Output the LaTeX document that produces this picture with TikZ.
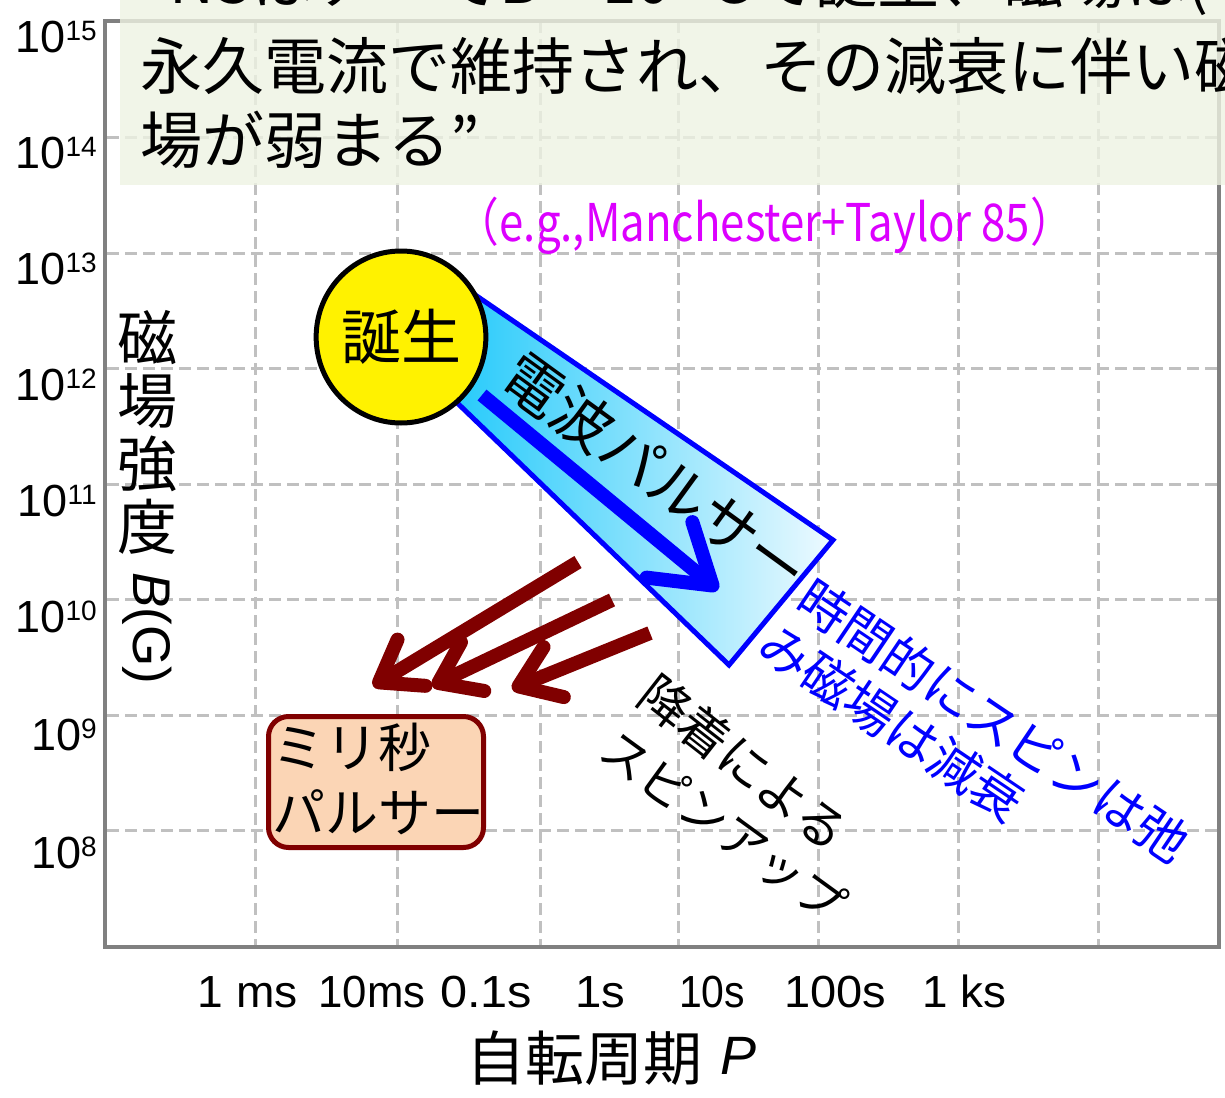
\documentclass[tikz,border=0pt]{standalone}
\usepackage{fontspec}
\usepackage{graphicx}
\setmainfont{Liberation Sans}
\newfontfamily\jp{Noto Sans CJK JP}
\usetikzlibrary{shapes.geometric,arrows.meta}
\definecolor{gridgray}{RGB}{192,192,192}
\definecolor{framegray}{RGB}{128,128,128}
\definecolor{maroonc}{RGB}{128,0,0}
\definecolor{boxbg}{RGB}{238,242,226}
\definecolor{peach}{RGB}{251,213,181}
\definecolor{magc}{RGB}{220,0,255}
\definecolor{cyanL}{RGB}{20,198,250}
\definecolor{cyanR}{RGB}{238,250,255}
\definecolor{pureblue}{RGB}{0,0,255}
\newcommand{\fsz}[1]{\fontsize{#1}{#1}\selectfont}
\newcommand{\fitw}[2]{\resizebox{#1}{\height}{#2}}
\newcommand{\tenp}[1]{{\fsz{45}10}\raisebox{12pt}{\fsz{28}#1}}
\begin{document}
\begin{tikzpicture}[x=1pt,y=-1pt,
  gridline/.style={draw=gridgray,line width=3pt,dash pattern=on 12pt off 6pt},
  ylab/.style={anchor=base east,inner sep=0pt},
  xlab/.style={anchor=base,inner sep=0pt,font=\fsz{45}},
  jtext/.style={inner sep=0pt,font={\jp\fsz{#1}}},
  brownarrow/.style={draw=maroonc,line width=14pt,-{Straight Barb[length=38pt,width=54pt,round]}},
]
\useasboundingbox (0,0) rectangle (1225,1097);
\begin{scope}
\clip (0,0) rectangle (1225,1097);
% grid
\foreach \x in {255,397,540,678,818,958,1098} \draw[gridline] (\x,21) -- (\x,946);
\foreach \y in {137,253,368,484,599,715,830} \draw[gridline] (107,\y) -- (1219,\y);
% frame
\draw[framegray,line width=4.5pt] (105,21) rectangle (1219,947);
% y tick labels
\node[ylab] (y15) at (97,53) {\tenp{15}};
\node[ylab] (y14) at (97,168) {\tenp{14}};
\node[ylab] (y13) at (97,284) {\tenp{13}};
\node[ylab] (y12) at (97,400) {\tenp{12}};
\node[ylab] (y11) at (97,516) {\tenp{11}};
\node[ylab] (y10) at (97,632) {\tenp{10}};
\node[ylab] (y9) at (97,750) {\tenp{9}};
\node[ylab] (y8) at (97,868) {\tenp{8}};
% x tick labels
\node[xlab] (x1) at (248,1007) {\fitw{100pt}{1 ms}};
\node[xlab] (x2) at (372,1007) {\fitw{107pt}{10ms}};
\node[xlab] (x3) at (486,1007) {\fitw{92pt}{0.1s}};
\node[xlab] (x4) at (600,1007) {\fitw{50pt}{1s}};
\node[xlab] (x5) at (712,1007) {\fitw{66pt}{10s}};
\node[xlab] (x6) at (835,1007) {\fitw{102pt}{100s}};
\node[xlab] (x7) at (964,1007) {\fitw{84pt}{1 ks}};
% axis titles
\node[jtext=59] (xt) at (584,1058) {自転周期};
\node[anchor=west,inner sep=0pt,font=\fsz{54}\itshape] (xp) at (720,1056) {P};
\node[inner sep=0pt,align=center,font={\jp\fontsize{60}{63}\selectfont}] (yt) at (147,432) {磁\\場\\強\\度};
\node[inner sep=0pt,rotate=-90,font=\fsz{53}] (yb) at (147,628) {\textit{B}(G)};
% top text box
\fill[boxbg,fill opacity=0.8] (120,-5) rectangle (1230,185);
\node[jtext=62,anchor=west] (t1) at (140,-16) {“NSはテ・でB～10\raisebox{20pt}{\fsz{36}12}Gで誕生、磁場は(中};
\node[jtext=62,anchor=west] (t2) at (140,66) {永久電流で維持され、その減衰に伴い磁};
\node[jtext=62,anchor=west] (t3) at (140,140) {場が弱まる”};
% magenta reference
\node[jtext=52,text=magc] (ref) at (765,226) {\fitw{618pt}{（e.g.,Manchester+Taylor 85）}};
% radio pulsar band
\draw[pureblue,line width=5pt,left color=cyanL,right color=cyanR,line join=miter]
  (430,264) -- (833,540) -- (729,665) -- (420,367) -- cycle;
\node[ellipse,draw=black,line width=5pt,fill=yellow,minimum width=160pt,minimum height=172pt,inner sep=0pt,font={\jp\fsz{60}}] (birth) at (401,337) {誕生};
\coordinate (bs) at (482,395);
\coordinate (be) at (718,590);
\draw[pureblue,line width=14pt,-{Straight Barb[length=56pt,width=72pt,round]}] (bs) -- (be);
\node[jtext=60,rotate=-36] (radio) at (656,473) {電波パルサー};
% decay label
\node[jtext=51,text=pureblue,rotate=-34,anchor=west] (d1) at (803,592) {時間的にスピンは弛};
\node[jtext=51,text=pureblue,rotate=-34,anchor=west] (d2) at (765,637) {み磁場は減衰};
% accretion arrows
\coordinate (a1s) at (578,562); \coordinate (a1e) at (373,686);
\coordinate (a2s) at (612,600); \coordinate (a2e) at (432,686);
\coordinate (a3s) at (650,633); \coordinate (a3e) at (512,689);
\draw[brownarrow] (a1s) -- (a1e);
\draw[brownarrow] (a2s) -- (a2e);
\draw[brownarrow] (a3s) -- (a3e);
\node[jtext=50,rotate=-38,anchor=west] (s1) at (646,686) {降着による};
\node[jtext=48,rotate=-36,anchor=west] (s2) at (607,742) {スピンアップ};
% millisecond pulsar box
\node[draw=maroonc,line width=5pt,fill=peach,rounded corners=20pt,minimum width=215pt,minimum height=131pt,inner sep=0pt] (msp) at (376,782) {};
\node[inner sep=0pt,anchor=north west,align=left,font={\jp\fontsize{53}{65}\selectfont}] (msptext) at (272,723) {ミリ秒\\パルサー};
\end{scope}
\end{tikzpicture}
\end{document}
